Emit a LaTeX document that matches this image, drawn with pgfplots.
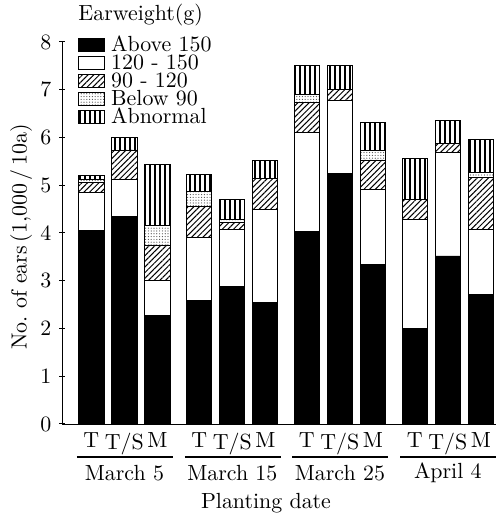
\documentclass[border=0pt,11pt]{standalone}
\usepackage{pgfplots}
\pgfplotsset{compat=1.18}
\usepackage{pgfplotstable}
\usetikzlibrary{patterns,patterns.meta}
\pgfplotstableread{
x     above  w     hatch dot   abn
0     4.05   0.80  0.20  0.08  0.07
1     4.35   0.78  0.61  0.00  0.26
2     2.27   0.73  0.75  0.40  1.28
3.27  2.59   1.31  0.65  0.32  0.35
4.27  2.88   1.20  0.14  0.07  0.42
5.27  2.54   1.95  0.66  0.00  0.37
6.53  4.03   2.07  0.64  0.16  0.60
7.53  5.24   1.53  0.23  0.00  0.50
8.53  3.35   1.57  0.61  0.19  0.60
9.8   2.01   2.28  0.42  0.00  0.85
10.8  3.52   2.17  0.19  0.00  0.48
11.8  2.72   1.35  1.10  0.09  0.69
}\datatable
\begin{document}
\begin{tikzpicture}
\begin{axis}[
  scale only axis,
  width=217pt, height=191pt,
  xmin=-0.89, xmax=12.26,
  ymin=0, ymax=8,
  axis lines*=left,
  ybar stacked,
  bar width=0.76,
  clip=false,
  xtick={0,1,2,3.27,4.27,5.27,6.53,7.53,8.53,9.8,10.8,11.8},
  xticklabels={T,T/S,M,T,T/S,M,T,T/S,M,T,T/S,M},
  x tick style={draw=none},
  x tick label style={yshift=1pt},
  ytick={0,1,...,8},
  y tick style={black, line width=0.5pt},
  tick align=center,
  major tick length=3pt,
  ylabel={No.\ of ears\,(1,000\,/\,10a)},
  ylabel style={at={(axis description cs:-0.094,0.49)}, anchor=center},
  xlabel={Planting date},
  xlabel style={at={(axis description cs:0.47,-0.207)}, anchor=center},
  legend style={at={(axis description cs:0.023,1.027)}, anchor=north west,
    draw=none, fill=none, row sep=0pt, column sep=3pt,
    nodes={inner sep=0pt, text height=7.8pt, text depth=1.2pt}},
  legend cell align=left,
  legend image code/.code={\draw[#1,draw=black] (0pt,-3.2pt) rectangle (13pt,3.3pt);},
]
\addplot[fill=black, draw=black] table[x=x,y=above] {\datatable};
\addlegendentry{Above 150}
\addplot[fill=white, draw=black] table[x=x,y=w] {\datatable};
\addlegendentry{120 - 150}
\addplot[draw=black, pattern={Lines[angle=45,distance=2pt,line width=0.5pt]}, pattern color=black] table[x=x,y=hatch] {\datatable};
\addlegendentry{90 - 120}
\addplot[draw=black, pattern={Dots[distance=1.4pt,radius=0.3pt]}, pattern color=black!70] table[x=x,y=dot] {\datatable};
\addlegendentry{Below 90}
\addplot[draw=black, pattern={Lines[angle=90,distance=2.5pt,line width=0.6pt]}, pattern color=black] table[x=x,y=abn] {\datatable};
\addlegendentry{Abnormal}
\node[anchor=west, inner sep=0pt] at (axis description cs:0.037,1.07) {Earweight(g)};
\draw[line width=0.7pt] (axis cs:-0.44,-0.69) -- (axis cs:2.47,-0.69);
\draw[line width=0.7pt] (axis cs:2.83,-0.69) -- (axis cs:5.74,-0.69);
\draw[line width=0.7pt] (axis cs:6.09,-0.69) -- (axis cs:9.0,-0.69);
\draw[line width=0.7pt] (axis cs:9.36,-0.69) -- (axis cs:12.27,-0.69);
\node at (axis cs:1,-1.03) {March 5};
\node at (axis cs:4.27,-1.03) {March 15};
\node at (axis cs:7.53,-1.03) {March 25};
\node at (axis cs:10.8,-1.03) {April 4};
\end{axis}
\pgfresetboundingbox
\path[use as bounding box] ([shift={(-31pt,-50.5pt)}]current axis.south west) rectangle ([shift={(1.5pt,21pt)}]current axis.north east);
\end{tikzpicture}
\end{document}
